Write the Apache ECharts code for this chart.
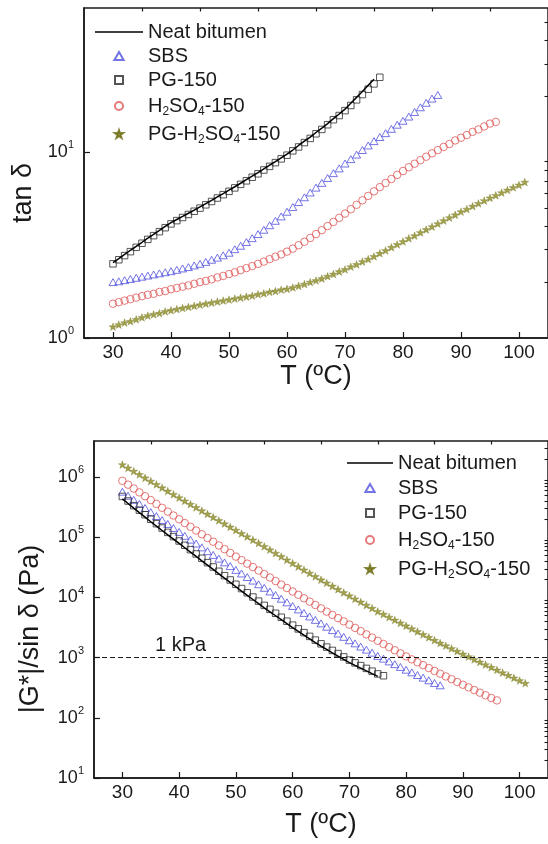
<!DOCTYPE html>
<html>
<head>
<meta charset="utf-8">
<script src="https://cdn.jsdelivr.net/npm/echarts@6/dist/echarts.min.js"></script>
<style>
html,body{margin:0;padding:0;background:#fff;}
#chart{width:548px;height:844px;}
</style>
</head>
<body>
<div id="chart"></div>
<script>
// Temperatures (°C)
const T = [30,31,32,33,34,35,36,37,38,39,40,41,42,43,44,45,46,47,48,49,50,51,52,53,54,55,56,57,58,59,60,61,62,63,64,65,66,67,68,69,70,71,72,73,74,75,76,77,78,79,80,81,82,83,84,85,86,87,88,89,90,91,92,93,94,95,96,97,98,99,100,101];

const seriesNames = ['Neat bitumen', 'SBS', 'PG-150', 'H2SO4-150', 'PG-H2SO4-150'];

// Top panel: tan δ
const tanNeat = [2.55,2.68,2.82,2.97,3.12,3.28,3.45,3.62,3.80,3.99,4.18,4.35,4.52,4.70,4.89,5.09,5.30,5.52,5.76,6.00,6.26,6.53,6.82,7.13,7.45,7.78,8.15,8.53,8.93,9.35,9.79,10.3,10.9,11.5,12.1,12.8,13.5,14.3,15.2,16.1,17.1,18.4,19.8,21.3,23.0,24.8];
const tanSBS = [2.00,2.02,2.05,2.08,2.11,2.14,2.17,2.20,2.23,2.26,2.29,2.33,2.37,2.41,2.46,2.51,2.57,2.64,2.71,2.79,2.88,3.01,3.14,3.29,3.45,3.63,3.83,4.05,4.28,4.52,4.79,5.08,5.40,5.73,6.08,6.46,6.85,7.28,7.73,8.20,8.71,9.20,9.73,10.3,10.9,11.5,12.1,12.7,13.4,14.1,14.8,15.6,16.5,17.5,18.5,19.5,20.4];
const tanPG = [2.51,2.64,2.78,2.92,3.08,3.24,3.40,3.56,3.74,3.93,4.12,4.29,4.46,4.63,4.82,5.01,5.22,5.44,5.68,5.92,6.17,6.44,6.73,7.03,7.35,7.67,8.04,8.41,8.81,9.23,9.66,10.2,10.7,11.3,11.9,12.6,13.3,14.1,15.0,15.8,16.8,17.9,19.2,20.5,21.9,23.4,25.4];
const tanH2 = [1.53,1.56,1.59,1.62,1.65,1.68,1.71,1.73,1.77,1.79,1.83,1.86,1.89,1.92,1.96,2.00,2.03,2.07,2.12,2.16,2.21,2.26,2.32,2.38,2.44,2.51,2.58,2.66,2.74,2.82,2.92,3.03,3.16,3.30,3.46,3.63,3.81,4.01,4.22,4.44,4.68,4.94,5.22,5.52,5.83,6.17,6.50,6.84,7.19,7.57,7.94,8.32,8.69,9.08,9.48,9.89,10.3,10.7,11.1,11.6,12.0,12.4,12.9,13.3,13.8,14.3,14.6];
const tanPGH2 = [1.15,1.18,1.21,1.23,1.26,1.29,1.32,1.34,1.36,1.39,1.41,1.43,1.45,1.47,1.49,1.51,1.53,1.55,1.57,1.59,1.61,1.63,1.65,1.67,1.69,1.72,1.74,1.77,1.79,1.82,1.84,1.87,1.91,1.95,2.00,2.04,2.09,2.15,2.21,2.28,2.34,2.42,2.49,2.58,2.66,2.75,2.86,2.96,3.08,3.19,3.31,3.44,3.56,3.70,3.84,3.98,4.13,4.29,4.45,4.61,4.79,4.95,5.13,5.31,5.50,5.69,5.87,6.07,6.27,6.47,6.68,6.92];

// Bottom panel: |G*|/sin δ (Pa)
const gNeat = [4.36e5,3.66e5,3.07e5,2.58e5,2.17e5,1.82e5,1.54e5,1.30e5,1.10e5,9.37e4,7.93e4,6.72e4,5.69e4,4.82e4,4.08e4,3.46e4,2.93e4,2.48e4,2.10e4,1.78e4,1.51e4,1.28e4,1.09e4,9.28e3,7.93e3,6.74e3,5.80e3,4.98e3,4.28e3,3.67e3,3.16e3,2.74e3,2.37e3,2.06e3,1.78e3,1.55e3,1.37e3,1.20e3,1.06e3,940,830,746,672,604,543,489];
const gSBS = [5.75e5,4.92e5,4.21e5,3.60e5,3.08e5,2.63e5,2.26e5,1.94e5,1.67e5,1.43e5,1.23e5,1.06e5,9.16e4,7.91e4,6.82e4,5.89e4,5.11e4,4.43e4,3.84e4,3.33e4,2.88e4,2.51e4,2.19e4,1.91e4,1.66e4,1.45e4,1.26e4,1.10e4,9.55e3,8.32e3,7.24e3,6.34e3,5.55e3,4.85e3,4.25e3,3.72e3,3.27e3,2.87e3,2.52e3,2.22e3,1.95e3,1.73e3,1.53e3,1.36e3,1.21e3,1.07e3,964,867,780,701,631,570,515,466,421,380,347];
const gPG = [4.79e5,4.02e5,3.37e5,2.83e5,2.38e5,2.00e5,1.69e5,1.43e5,1.21e5,1.03e5,8.71e4,7.38e4,6.25e4,5.30e4,4.49e4,3.80e4,3.22e4,2.73e4,2.31e4,1.96e4,1.66e4,1.41e4,1.20e4,1.02e4,8.71e3,7.41e3,6.37e3,5.47e3,4.70e3,4.04e3,3.47e3,3.01e3,2.61e3,2.26e3,1.96e3,1.70e3,1.50e3,1.32e3,1.17e3,1.03e3,912,820,738,664,597,537,501];
const gH2 = [8.71e5,7.52e5,6.49e5,5.60e5,4.83e5,4.17e5,3.60e5,3.10e5,2.68e5,2.31e5,2.00e5,1.73e5,1.50e5,1.30e5,1.13e5,9.77e4,8.47e4,7.35e4,6.37e4,5.52e4,4.79e4,4.19e4,3.66e4,3.21e4,2.81e4,2.45e4,2.15e4,1.88e4,1.64e4,1.44e4,1.26e4,1.11e4,9.73e3,8.55e3,7.52e3,6.61e3,5.83e3,5.15e3,4.55e3,4.02e3,3.55e3,3.13e3,2.77e3,2.44e3,2.16e3,1.91e3,1.69e3,1.50e3,1.33e3,1.18e3,1.05e3,938,839,752,673,603,542,488,439,394,355,321,290,262,237,214,195];
const gPGH2 = [1.62e6,1.43e6,1.26e6,1.11e6,9.77e5,8.61e5,7.59e5,6.68e5,5.89e5,5.19e5,4.57e5,4.04e5,3.56e5,3.15e5,2.78e5,2.45e5,2.17e5,1.91e5,1.69e5,1.49e5,1.32e5,1.16e5,1.03e5,9.08e4,8.02e4,7.08e4,6.22e4,5.47e4,4.81e4,4.23e4,3.72e4,3.27e4,2.88e4,2.54e4,2.24e4,1.97e4,1.75e4,1.55e4,1.37e4,1.21e4,1.07e4,9.51e3,8.43e3,7.48e3,6.64e3,5.89e3,5.27e3,4.72e3,4.23e3,3.78e3,3.39e3,3.03e3,2.72e3,2.43e3,2.18e3,1.95e3,1.75e3,1.58e3,1.42e3,1.28e3,1.15e3,1.04e3,938,847,766,692,625,565,511,461,417,376];

const criterion = 1000; // 1 kPa

// Ticks
const xMajor = [30,40,50,60,70,80,90,100];
const xMinor = [35,45,55,65,75,85,95];
const yTopMajor = [1,10];
const yTopMinor = [2,3,4,5,6,7,8,9,20,30,40,50];
const yBotMajor = [10,100,1000,10000,100000,1000000];
const yBotMinor = [20,30,40,50,60,70,80,90,200,300,400,500,600,700,800,900,2000,3000,4000,5000,6000,7000,8000,9000,2e4,3e4,4e4,5e4,6e4,7e4,8e4,9e4,2e5,3e5,4e5,5e5,6e5,7e5,8e5,9e5,2e6,3e6];

const FONT = "'Liberation Sans', Arial, sans-serif";
const INK = '#1a1a1a';
const C_BLUE = '#5050e0', C_BLACK = '#2a2a2a', C_RED = '#e05858', C_STAR = '#8a8a22';
const STAR = 'path://M0,-10L2.35,-3.24L9.51,-3.09L3.8,1.24L5.88,8.09L0,4L-5.88,8.09L-3.8,1.24L-9.51,-3.09L-2.35,-3.24Z';
const TRI = 'path://M0,-10L8.66,5L-8.66,5Z';
const SQR = 'path://M-10,-10L10,-10L10,10L-10,10Z';
const LINE_ICON = 'path://M0,0L48,0L48,1.6L0,1.6Z';

const pairs = vals => vals.map((v, i) => [T[i], v]);

function supLabel(v) {
  const e = Math.round(Math.log10(v));
  return '{b|10}{s|' + e + '}';
}
const supRich = {
  b: {fontSize: 18, fontFamily: FONT, color: INK, lineHeight: 18},
  s: {fontSize: 11, fontFamily: FONT, color: INK, lineHeight: 4, padding: [0, 0, 14, 0]}
};

function xMain(gi, nameGap) {
  return {
    type: 'value', gridIndex: gi, min: 25, max: 105,
    name: 'T (ºC)', nameLocation: 'middle', nameGap: nameGap,
    nameTextStyle: {fontSize: 27, fontFamily: FONT, color: INK},
    axisLine: {show: true, lineStyle: {color: INK, width: 1.5}},
    axisTick: {show: true, inside: true, length: 6, customValues: xMajor, lineStyle: {color: INK, width: 1.2}},
    axisLabel: {show: true, customValues: xMajor, fontSize: 19, fontFamily: FONT, color: INK, margin: 5},
    splitLine: {show: false}
  };
}
function xMinorAxis(gi) {
  return {
    type: 'value', gridIndex: gi, min: 25, max: 105,
    axisLine: {show: false},
    axisTick: {show: true, inside: true, length: 3.5, customValues: xMinor, lineStyle: {color: INK, width: 1.2}},
    axisLabel: {show: false}, splitLine: {show: false}
  };
}
function yMain(gi, min, max, major, name, nameGap, pad) {
  return {
    type: 'log', logBase: 10, gridIndex: gi, min: min, max: max,
    name: name, nameLocation: 'middle', nameGap: nameGap,
    nameTextStyle: {fontSize: 27, fontFamily: FONT, color: INK, padding: pad},
    axisLine: {show: true, lineStyle: {color: INK, width: 1.5}},
    axisTick: {show: true, inside: true, length: 6, customValues: major, lineStyle: {color: INK, width: 1.2}},
    axisLabel: {show: true, customValues: major, formatter: supLabel, rich: supRich, margin: 10},
    splitLine: {show: false}, minorTick: {show: false}
  };
}
function yMinorAxis(gi, min, max, minor) {
  return {
    type: 'log', logBase: 10, gridIndex: gi, min: min, max: max,
    axisLine: {show: false},
    axisTick: {show: true, inside: true, length: 3.5, customValues: minor, lineStyle: {color: INK, width: 1.1}},
    axisLabel: {show: false}, splitLine: {show: false}
  };
}

function lineSeries(name, data, xi, yi) {
  return {name: name, type: 'line', xAxisIndex: xi, yAxisIndex: yi, data: pairs(data),
    symbol: 'none', showSymbol: false, lineStyle: {color: '#000', width: 1.5}, itemStyle: {color: '#000'}, z: 3};
}
function scatterSeries(name, data, xi, yi, symbol, size, color, filled) {
  return {name: name, type: 'scatter', xAxisIndex: xi, yAxisIndex: yi, data: pairs(data),
    symbol: symbol, symbolSize: size, symbolKeepAspect: true,
    itemStyle: filled ? {color: color, borderColor: '#6a6a12', borderWidth: 0.4}
                      : {color: 'rgba(255,255,255,0)', borderColor: color, borderWidth: 1},
    z: 2};
}

const legendRich = {
  s: {fontSize: 12, fontFamily: FONT, color: INK, lineHeight: 8, padding: [12, 0, 0, 0]}
};
function legend(left, top, gap, width) {
  return {
    orient: 'vertical', left: left, top: top, padding: 0, itemGap: gap,
    itemWidth: width, itemHeight: 8, symbolKeepAspect: true,
    data: seriesNames.map((n, i) => i === 0 ? {name: n, icon: LINE_ICON} : {name: n}),
    formatter: n => n.replace('H2SO4', 'H{s|2}SO{s|4}'),
    textStyle: {fontSize: 20, fontFamily: FONT, color: INK, lineHeight: 20, rich: legendRich},
    selectedMode: false
  };
}

const chart = echarts.init(document.getElementById('chart'), null, {renderer: 'canvas'});
chart.setOption({
  animation: false,
  backgroundColor: '#fff',
  grid: [
    {left: 84, top: 8, width: 470, height: 330, show: true, borderColor: INK, borderWidth: 1.5},
    {left: 94, top: 441, width: 458, height: 337, show: true, borderColor: INK, borderWidth: 1.5}
  ],
  xAxis: [xMain(0, 25), xMinorAxis(0), xMain(1, 33), xMinorAxis(1)],
  yAxis: [
    yMain(0, 1, 60, yTopMajor, 'tan δ', 40, [0, 40, 0, 0]),
    yMinorAxis(0, 1, 60, yTopMinor),
    yMain(1, 10, 4e6, yBotMajor, '|G*|/sin δ (Pa)', 50, [0, 39, 0, 0]),
    yMinorAxis(1, 10, 4e6, yBotMinor)
  ],
  legend: [legend(95, 22, 4, 48), legend(347, 453, 5, 46)],
  series: [
    lineSeries('Neat bitumen', tanNeat, 0, 0),
    scatterSeries('SBS', tanSBS, 0, 0, TRI, 8, C_BLUE, false),
    scatterSeries('PG-150', tanPG, 0, 0, SQR, 6.5, C_BLACK, false),
    scatterSeries('H2SO4-150', tanH2, 0, 0, 'circle', 7.5, C_RED, false),
    scatterSeries('PG-H2SO4-150', tanPGH2, 0, 0, STAR, 8, C_STAR, true),
    lineSeries('Neat bitumen', gNeat, 2, 2),
    scatterSeries('SBS', gSBS, 2, 2, TRI, 8, C_BLUE, false),
    scatterSeries('PG-150', gPG, 2, 2, SQR, 6.5, C_BLACK, false),
    scatterSeries('H2SO4-150', gH2, 2, 2, 'circle', 7.5, C_RED, false),
    Object.assign(scatterSeries('PG-H2SO4-150', gPGH2, 2, 2, STAR, 8, C_STAR, true), {
      markLine: {
        silent: true, symbol: 'none',
        lineStyle: {color: INK, type: [5, 3], width: 1.2},
        label: {show: true, formatter: '1 kPa', position: 'insideStartTop', distance: [61, 2],
          fontSize: 20, fontFamily: FONT, color: INK},
        data: [{yAxis: criterion}]
      }
    })
  ]
});
</script>
</body>
</html>
